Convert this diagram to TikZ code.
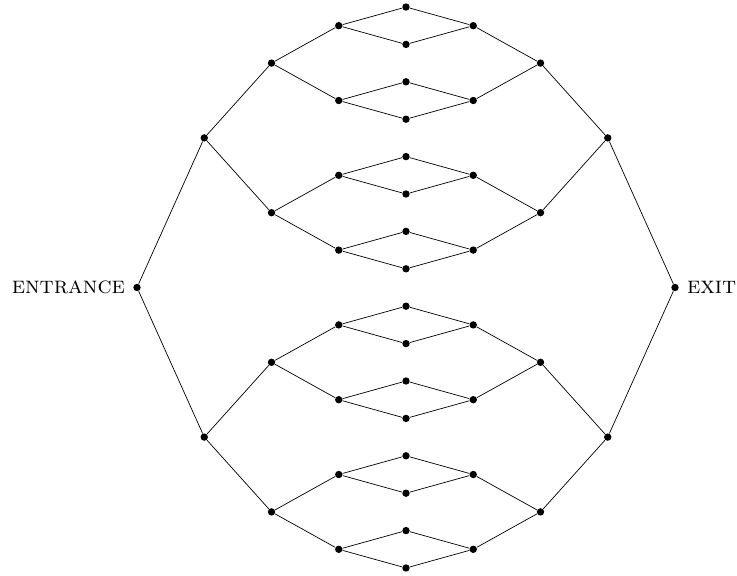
\documentclass[tikz,border=0pt]{standalone}
\usepackage{tikz}
\usetikzlibrary{positioning}

\begin{document}
\begin{tikzpicture}[
    x=0.02cm, y=-0.02cm,
    vertex/.style={circle, fill=black, inner sep=0pt, minimum size=4.2pt},
    edge/.style={thin},
    tag/.style={font=\fontsize{13.6}{16}\selectfont}
]
    \useasboundingbox (0,0) rectangle (737,575);

    \node (l0-1) [vertex] at (137,287.5) {};
    \node (r0-1) [vertex] at (675,287.5) {};
    \node (entrance) [tag, left=1pt of l0-1] {\textsc{entrance}};
    \node (exit) [tag, right=1pt of r0-1] {\textsc{exit}};

    % both halves of the tree
    \foreach \k/\n in {1/2,2/4,3/8}{
        \foreach \j in {1,...,\n}{
            \pgfmathsetmacro{\yy}{7+37.4*((\j-1)*16/\n+(16/\n-1)/2)}
            \node (l\k-\j) [vertex] at ({137+67.25*\k},\yy) {};
            \node (r\k-\j) [vertex] at ({675-67.25*\k},\yy) {};
        }
    }
    % middle column
    \foreach \j in {1,...,16}
        \node (m-\j) [vertex] at (406,{7+37.4*(\j-1)}) {};

    \foreach \k/\n in {0/1,1/2,2/4}{
        \foreach \j in {1,...,\n}{
            \pgfmathtruncatemacro{\a}{2*\j-1}
            \pgfmathtruncatemacro{\b}{2*\j}
            \pgfmathtruncatemacro{\kk}{\k+1}
            \draw [edge] (l\k-\j) -- (l\kk-\a);
            \draw [edge] (l\k-\j) -- (l\kk-\b);
            \draw [edge] (r\k-\j) -- (r\kk-\a);
            \draw [edge] (r\k-\j) -- (r\kk-\b);
        }
    }
    \foreach \j in {1,...,8}{
        \pgfmathtruncatemacro{\a}{2*\j-1}
        \pgfmathtruncatemacro{\b}{2*\j}
        \draw [edge] (l3-\j) -- (m-\a);
        \draw [edge] (l3-\j) -- (m-\b);
        \draw [edge] (r3-\j) -- (m-\a);
        \draw [edge] (r3-\j) -- (m-\b);
    }
\end{tikzpicture}
\end{document}
